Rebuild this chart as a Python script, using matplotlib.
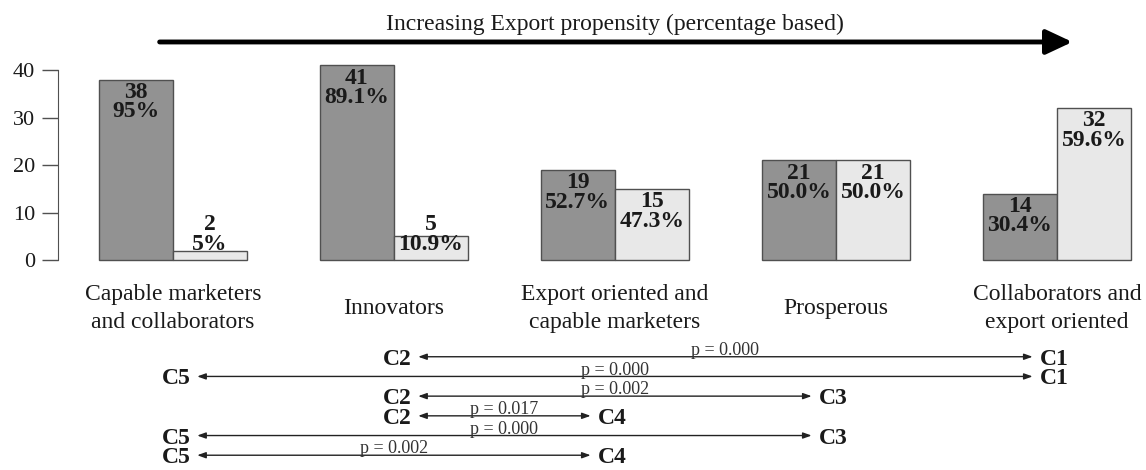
import numpy as np
import matplotlib.pyplot as plt

plt.rcParams['font.family'] = ['Liberation Serif', 'DejaVu Serif']

# Cluster profiles, ordered by increasing export propensity
categories = ["Capable marketers\nand collaborators", "Innovators",
              "Export oriented and\ncapable marketers", "Prosperous",
              "Collaborators and\nexport oriented"]
clusters = ["C5", "C2", "C4", "C3", "C1"]
dark_counts = [38, 41, 19, 21, 14]
dark_pct = ["95%", "89.1%", "52.7%", "50.0%", "30.4%"]
light_counts = [2, 5, 15, 21, 32]
light_pct = ["5%", "10.9%", "47.3%", "50.0%", "59.6%"]

# Pairwise comparisons between clusters
comp_left = ["C2", "C5", "C2", "C2", "C5", "C5"]
comp_right = ["C1", "C1", "C3", "C4", "C3", "C4"]
comp_p = ["0.000", "0.000", "0.002", "0.017", "0.000", "0.002"]

W, H = 1146, 470
fig = plt.figure(figsize=(W / 100, H / 100), dpi=100)
ax = fig.add_axes([58 / W, 210 / H, 1082 / W, 228 / H])

x = np.arange(len(categories))
width = 0.335
edge = '#505050'

ax.bar(x - width / 2, dark_counts, width, color='#929292', edgecolor=edge,
       linewidth=1, clip_on=False)
ax.bar(x + width / 2, light_counts, width, color='#e8e8e8', edgecolor=edge,
       linewidth=1, clip_on=False)


def bar_label(xpos, count, pct):
    top = max(count - 0.5, 9.6)
    ax.text(xpos, top, f"{count}\n{pct}", ha='center', va='top',
            fontsize=17, fontweight='bold', linespacing=0.9, color='#1a1a1a')


for i in range(len(categories)):
    bar_label(x[i] - width / 2, dark_counts[i], dark_pct[i])
    bar_label(x[i] + width / 2, light_counts[i], light_pct[i])

ax.set_xlim(-0.52, 4.376)
ax.set_ylim(0, 48)
ax.set_yticks([0, 10, 20, 30, 40])
ax.set_xticks(x, categories)
for lbl in ax.get_xticklabels():
    lbl.set_va('center')
    lbl.set_linespacing(1.42)

ax.tick_params(axis='x', length=0, pad=35, labelsize=17, labelcolor='#1a1a1a')
ax.tick_params(axis='y', length=11.5, width=1, color=edge, pad=5,
               labelsize=16, labelcolor='#1a1a1a')
for side in ['top', 'right', 'bottom']:
    ax.spines[side].set_visible(False)
ax.spines['left'].set_bounds(0, 40)
ax.spines['left'].set_color(edge)

# Export propensity arrow
ax.annotate('', xy=(4.07, 45.9), xytext=(-0.06, 45.9),
            arrowprops=dict(arrowstyle='-|>,head_length=1.6,head_width=0.75',
                            lw=3.5, color='black', mutation_scale=10,
                            shrinkA=0, shrinkB=0),
            annotation_clip=False)
ax.text(2.0, 49.6, "Increasing Export propensity (percentage based)",
        ha='center', va='center', fontsize=17, color='#1a1a1a')

# Comparison arrows
ax2 = fig.add_axes([58 / W, 0, 1082 / W, 130 / H])
ax2.set_xlim(-0.52, 4.376)
ax2.set_ylim(-5.75, 0.85)
ax2.axis('off')

for i in range(len(comp_p)):
    y = -i
    xl = clusters.index(comp_left[i]) + 0.11
    xr = clusters.index(comp_right[i]) - 0.11
    ax2.annotate('', xy=(xr, y), xytext=(xl, y),
                 arrowprops=dict(arrowstyle='<|-|>,head_length=0.5,head_width=0.18',
                                 lw=1, color='#222222', mutation_scale=10,
                                 shrinkA=0, shrinkB=0))
    ax2.annotate(comp_left[i], xy=(xl, y), xytext=(-5, 0), textcoords='offset points',
                 ha='right', va='center_baseline', fontsize=17, fontweight='bold',
                 color='#1a1a1a')
    ax2.annotate(comp_right[i], xy=(xr, y), xytext=(5, 0), textcoords='offset points',
                 ha='left', va='center_baseline', fontsize=17, fontweight='bold',
                 color='#1a1a1a')
    ax2.annotate(f"p = {comp_p[i]}", xy=((xl + xr) / 2, y), xytext=(0, -1.5),
                 textcoords='offset points', ha='center', va='bottom',
                 fontsize=13, color='#333333')

fig.savefig('out.png', dpi=100, facecolor='white')
